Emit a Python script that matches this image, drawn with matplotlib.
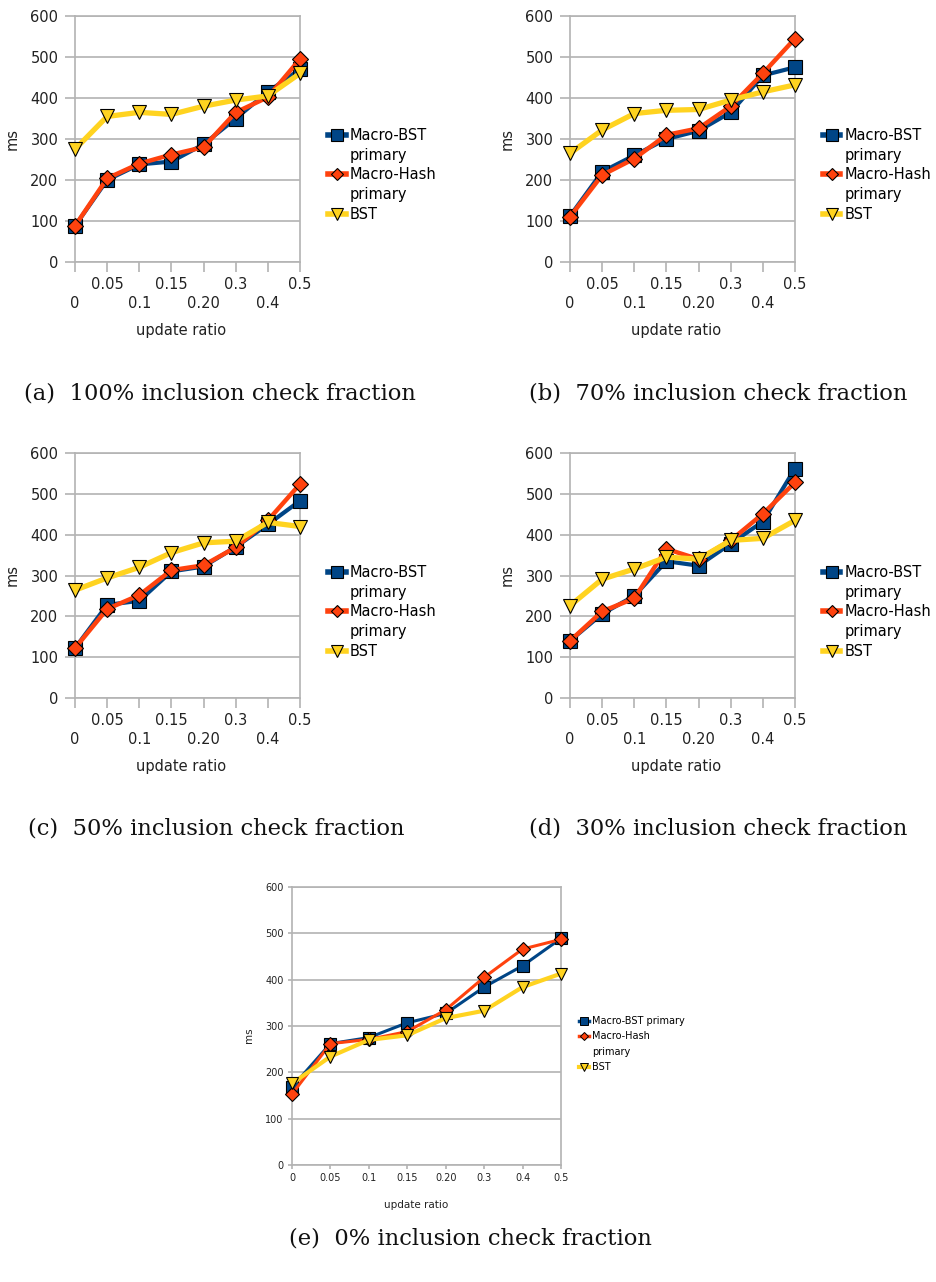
import matplotlib
matplotlib.use("Agg")
import matplotlib.pyplot as plt
from matplotlib.lines import Line2D

# update ratios (category axis)
ratios = ["0", "0.05", "0.1", "0.15", "0.20", "0.3", "0.4", "0.5"]

# (a) 100% inclusion check fraction
macro_bst_100 = [88, 200, 238, 245, 287, 350, 415, 470]
macro_hash_100 = [88, 204, 240, 262, 280, 365, 402, 495]
bst_100 = [275, 355, 365, 360, 380, 395, 405, 460]

# (b) 70%
macro_bst_70 = [112, 220, 260, 300, 320, 365, 455, 475]
macro_hash_70 = [110, 212, 252, 310, 326, 380, 460, 545]
bst_70 = [265, 322, 362, 370, 372, 395, 415, 432]

# (c) 50%
macro_bst_50 = [122, 228, 238, 310, 322, 370, 425, 483]
macro_hash_50 = [122, 218, 252, 313, 325, 369, 435, 524]
bst_50 = [264, 294, 320, 356, 380, 384, 430, 420]

# (d) 30%
macro_bst_30 = [140, 206, 250, 335, 324, 378, 432, 562]
macro_hash_30 = [140, 212, 244, 365, 340, 386, 451, 528]
bst_30 = [226, 291, 316, 345, 340, 386, 391, 435]

# (e) 0%
macro_bst_0 = [168, 262, 275, 307, 327, 384, 430, 489]
macro_hash_0 = [153, 262, 271, 288, 335, 405, 466, 487]
bst_0 = [176, 234, 270, 280, 317, 333, 384, 413]

captions = ["(a)  100% inclusion check fraction", "(b)  70% inclusion check fraction",
            "(c)  50% inclusion check fraction", "(d)  30% inclusion check fraction",
            "(e)  0% inclusion check fraction"]

names = ["Macro-BST primary", "Macro-Hash primary", "BST"]
colors = ["#004586", "#ff420e", "#ffd320"]
markers = ["s", "D", "v"]

W, H = 937, 1282
fig = plt.figure(figsize=(W / 100, H / 100), dpi=100)
grid_c = "#b3b3b3"


def px_axes(l, t, r, b):
    return fig.add_axes([l / W, 1 - b / H, (r - l) / W, (b - t) / H])


def panel(box, series, small=False):
    l, t, r, b = box
    ax = px_axes(l, t, r, b)
    x = list(range(len(ratios)))
    fs = 7 if small else 10.5
    for i, ys in enumerate(series):
        if small:
            ms = [8, 7, 8][i]
            lw = [2.2, 2.2, 3.0][i]
        else:
            ms = [10, 8, 9.5][i]
            lw = [3.0, 3.2, 3.8][i]
        ax.plot(x, ys, color=colors[i], lw=lw, marker=markers[i], ms=ms,
                mec="black", mew=0.8, zorder=3 + i, clip_on=False)
    ax.set_xlim(0, len(ratios) - 1)
    ax.set_ylim(0, 600)
    ax.set_yticks(range(0, 601, 100))
    ax.yaxis.grid(True, color=grid_c, lw=1.2)
    ax.set_axisbelow(True)
    for s in ax.spines.values():
        s.set_color(grid_c)
        s.set_linewidth(1.2)
    ax.tick_params(colors=grid_c, labelcolor="#222222", labelsize=fs,
                   length=3 if small else 7, width=1.2)
    ax.tick_params(axis="y", pad=3 if small else 5)
    ax.set_xticks(x)
    if small:
        ax.set_xticklabels(ratios)
        ax.tick_params(axis="x", pad=3)
    else:
        ax.set_xticklabels([("\n" + r) if k % 2 == 0 else r for k, r in enumerate(ratios)],
                           linespacing=1.35)
        ax.tick_params(axis="x", pad=4)
    return ax


def add_caption(cx, cy, txt):
    fig.text(cx / W, 1 - cy / H, txt, ha="center", va="center",
             family="DejaVu Serif", fontsize=16.3, color="#111111")


def legend_big(ax, lx, ly):
    hs = []
    labs = []
    for i, nm in enumerate(["Macro-BST\nprimary", "Macro-Hash\nprimary", "BST"]):
        ms = [8, 6.5, 8][i]
        hs.append(Line2D([], [], color=colors[i], lw=4, marker=markers[i], ms=ms,
                         mec="black", mew=0.8))
        parts = nm.split("\n")
        labs.append(parts[0])
        if len(parts) > 1:
            hs.append(Line2D([], [], alpha=0))
            labs.append(parts[1])
    fig.legend(hs, labs, loc="upper left", bbox_to_anchor=(lx / W, 1 - ly / H),
               frameon=False, fontsize=10.5, handlelength=1.2, handletextpad=0.25,
               labelspacing=0.32, borderpad=0, borderaxespad=0)


# layout of the four top panels (pixel boxes: left, top, right, bottom)
boxes = [(75, 16, 300, 262), (570, 16, 795, 262), (75, 453, 300, 698), (570, 453, 795, 698)]
data = [(macro_bst_100, macro_hash_100, bst_100), (macro_bst_70, macro_hash_70, bst_70),
        (macro_bst_50, macro_hash_50, bst_50), (macro_bst_30, macro_hash_30, bst_30)]
cap_pos = [(220, 393), (718, 393), (216, 828), (718, 828)]

for k in range(4):
    l, t, r, b = boxes[k]
    ax = panel(boxes[k], data[k])
    fig.text((l - 63) / W, 1 - ((t + b) / 2) / H, "ms", rotation=90, ha="center",
             va="center", fontsize=10.5, color="#222222")
    fig.text(((l + r) / 2 - 6) / W, 1 - (b + 69) / H, "update ratio", ha="center",
             va="center", fontsize=10.5, color="#222222")
    legend_big(ax, l + 253, t + 112)
    add_caption(cap_pos[k][0], cap_pos[k][1], captions[k])

# bottom panel
l, t, r, b = 292, 887, 561, 1165
ax = panel((l, t, r, b), (macro_bst_0, macro_hash_0, bst_0), small=True)
fig.text(249 / W, 1 - 1035 / H, "ms", rotation=90, ha="center", va="center",
         fontsize=7.5, color="#222222")
fig.text(416 / W, 1 - 1205 / H, "update ratio", ha="center", va="center",
         fontsize=7.5, color="#222222")
hs = [Line2D([], [], color=colors[0], lw=2.5, marker="s", ms=6, mec="black", mew=0.7),
      Line2D([], [], color=colors[1], lw=2.5, marker="D", ms=4.5, mec="black", mew=0.7),
      Line2D([], [], alpha=0),
      Line2D([], [], color=colors[2], lw=3, marker="v", ms=6, mec="black", mew=0.7)]
fig.legend(hs, ["Macro-BST primary", "Macro-Hash", "primary", "BST"], loc="upper left",
           bbox_to_anchor=(579 / W, 1 - 1016 / H), frameon=False, fontsize=7,
           handlelength=1.0, handletextpad=0.3, labelspacing=0.55, borderpad=0,
           borderaxespad=0)
add_caption(470, 1238, captions[4])

fig.savefig("out.png", dpi=100)
